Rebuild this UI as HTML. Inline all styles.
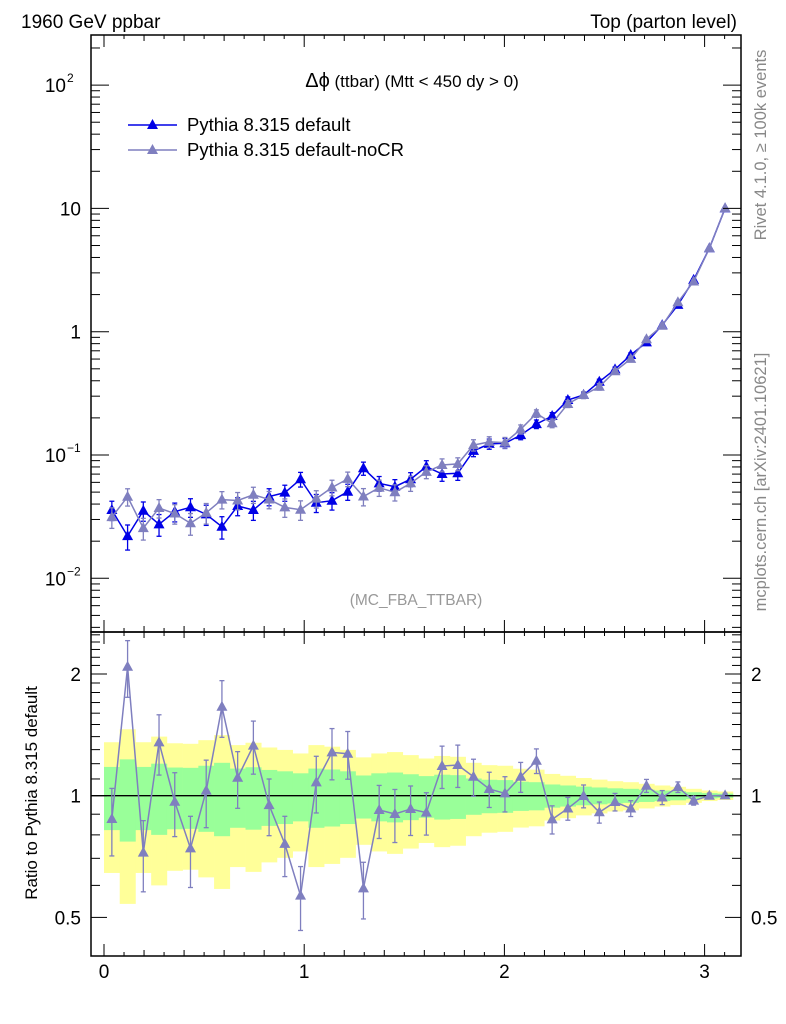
<!DOCTYPE html>
<html><head><meta charset="utf-8"><style>
html,body{margin:0;padding:0;background:#fff}
svg{display:block;font-family:"Liberation Sans",sans-serif}
</style></head><body>
<svg id="c" width="786" height="1024" viewBox="0 0 786 1024" xmlns="http://www.w3.org/2000/svg">
<rect x="0" y="0" width="786" height="1024" fill="#fff"/>
<g id="bands"></g>
<g id="marks"></g>
<g id="axes"></g>
<text x="21" y="28" font-size="19">1960 GeV ppbar</text>
<text x="737" y="28" font-size="19" text-anchor="end">Top (parton level)</text>
<text x="412" y="87" font-size="17" text-anchor="middle"><tspan font-size="20">Δϕ</tspan> (ttbar) (Mtt &lt; 450 dy &gt; 0)</text>
<g>
<g>
<line x1="128" y1="125" x2="177" y2="125" stroke="#0000e6" stroke-width="1.5"/>
<polygon points="152.5,119 147,129 158,129" fill="#0000e6"/>
<text x="187" y="131" font-size="18.5">Pythia 8.315 default</text></g>
<g>
<line x1="128" y1="150" x2="177" y2="150" stroke="#7f7fbf" stroke-width="1.5"/>
<polygon points="152.5,144 147,154 158,154" fill="#7f7fbf"/>
<text x="187" y="156" font-size="18.5">Pythia 8.315 default-noCR</text></g>
</g>
<text x="416" y="605" font-size="15.5" fill="#999" text-anchor="middle">(MC_FBA_TTBAR)</text>
<text transform="translate(766,145) rotate(-90)" font-size="16.5" fill="#888" text-anchor="middle">Rivet 4.1.0, ≥ 100k events</text>
<text transform="translate(766,482) rotate(-90)" font-size="16.5" fill="#888" text-anchor="middle">mcplots.cern.ch [arXiv:2401.10621]</text>
<text transform="translate(37,793) rotate(-90)" font-size="17" text-anchor="middle">Ratio to Pythia 8.315 default</text>
</svg>
<script>
const defaultValues=[0.0358,0.022,0.0353,0.0274,0.0347,0.0377,0.033,0.0262,0.0386,0.0358,0.046,0.0495,0.0636,0.041,0.0426,0.0504,0.078,0.0589,0.0553,0.0636,0.0804,0.0701,0.0711,0.108,0.123,0.1245,0.145,0.178,0.207,0.279,0.307,0.393,0.495,0.647,0.82,1.13,1.65,2.63,4.75,10.0];
const ratioValues=[0.876,2.085,0.723,1.355,0.966,0.741,1.029,1.66,1.108,1.33,0.948,0.76,0.566,1.079,1.28,1.27,0.59,0.922,0.901,0.927,0.908,1.184,1.191,1.114,1.039,1.013,1.114,1.22,0.874,0.93,0.998,0.91,0.965,0.93,1.058,0.99,1.05,0.972,1.0,1.002];
const defaultRelErr=[0.178,0.23,0.178,0.2,0.174,0.172,0.186,0.206,0.167,0.176,0.158,0.149,0.136,0.167,0.161,0.149,0.122,0.136,0.141,0.13,0.118,0.127,0.124,0.103,0.095,0.093,0.083,0.08,0.066,0.06,0.053,0.048,0.043,0.04,0.035,0.03,0.026,0.02,0.015,0.012];
const nocrRelErr=[0.19,0.16,0.2,0.17,0.18,0.2,0.19,0.16,0.16,0.15,0.16,0.17,0.18,0.16,0.145,0.135,0.16,0.15,0.15,0.14,0.12,0.12,0.12,0.105,0.1,0.1,0.085,0.07,0.08,0.065,0.065,0.06,0.05,0.045,0.037,0.04,0.03,0.025,0.015,0.012];
const xTickLabels=["0","1","2","3"];
const mainTickLabels=[[2,"10","2"],[1,"10",""],[0,"1",""],[-1,"10","−1"],[-2,"10","−2"]];
const ratioTickLabels=["2","1","0.5"];

const NS="http://www.w3.org/2000/svg";
const L=91,R=741,MT=35,MB=632,RB=956;
const nb=defaultValues.length, bw=Math.PI/nb;
const X=v=>104+200.2*v;
const Y=v=>331.7-123.3*Math.log10(v);
const RY=v=>795.7-121.7*Math.log2(v);
function el(p,t,a){const e=document.createElementNS(NS,t);for(const k in a)e.setAttribute(k,a[k]);p.appendChild(e);return e;}
const bands=document.getElementById('bands'),marks=document.getElementById('marks'),axes=document.getElementById('axes');

defaultRelErr.forEach((e,i)=>{
 const x0=X(i*bw),x1=X((i+1)*bw);
 const y=el(bands,'rect',{x:x0,y:RY(1+2*e),width:x1-x0+0.3,height:RY(1-2*e)-RY(1+2*e),fill:'#ffff99'});
 
 
});
defaultRelErr.forEach((e,i)=>{
 const x0=X(i*bw),x1=X((i+1)*bw);
 const g=el(bands,'rect',{x:x0,y:RY(1+e),width:x1-x0+0.3,height:RY(1-e)-RY(1+e),fill:'#99ff99'});
 
 
});
const one=el(bands,'line',{x1:L,x2:R,y1:RY(1),y2:RY(1),stroke:'#000','stroke-width':1.3});



function series(vals,errs,color,yf,name){
 const pts=vals.map((v,i)=>[X((i+0.5)*bw),yf(v)]);
 const pl=el(marks,'polyline',{points:pts.map(p=>p.join(',')).join(' '),fill:'none',stroke:color,'stroke-width':1.5});
 
 
 vals.forEach((v,i)=>{
  const x=pts[i][0],y=pts[i][1],yt=yf(v*(1+errs[i])),yb=yf(v*(1-errs[i]));
  const g=el(marks,'g',{});
  
  
  el(g,'line',{x1:x,x2:x,y1:yt,y2:yb,stroke:color,'stroke-width':1.3});
  el(g,'line',{x1:x-2.5,x2:x+2.5,y1:yt,y2:yt,stroke:color,'stroke-width':1.3});
  el(g,'line',{x1:x-2.5,x2:x+2.5,y1:yb,y2:yb,stroke:color,'stroke-width':1.3});
  el(g,'polygon',{points:`${x},${y-6} ${x-5.5},${y+4} ${x+5.5},${y+4}`,fill:color});
 });
}
const nocrValues=defaultValues.map((v,i)=>v*ratioValues[i]);
series(defaultValues,defaultRelErr,'#0000e6',Y,'default');
series(nocrValues,nocrRelErr,'#7f7fbf',Y,'nocr');
series(ratioValues,nocrRelErr,'#7f7fbf',RY,'ratio');

[[MT,MB],[MB,RB]].forEach(([t,b],k)=>{
 const r=el(axes,'rect',{x:L,y:t,width:R-L,height:b-t,fill:'none',stroke:'#000','stroke-width':1.5});
 
 
});
for(let i=0;i<=31;i++){
 const v=i/10,x=X(v),len=(i%10===0)?12:(i%2===0?6:4);
 if(x>R)break;
 el(axes,'line',{x1:x,x2:x,y1:RB,y2:RB-len,stroke:'#000','stroke-width':1});
 el(axes,'line',{x1:x,x2:x,y1:MT,y2:MT+len,stroke:'#000','stroke-width':1});
 el(axes,'line',{x1:x,x2:x,y1:MB,y2:MB-len,stroke:'#000','stroke-width':1});
 el(axes,'line',{x1:x,x2:x,y1:MB,y2:MB+len,stroke:'#000','stroke-width':1});
}
xTickLabels.forEach((t,i)=>{
 const e=el(axes,'text',{x:X(i),y:978,'font-size':19,'text-anchor':'middle'});
 e.textContent=t;
 
 
});
for(let d=-3;d<=2;d++){
 for(let m=1;m<10;m++){
  const y=Y(m*Math.pow(10,d));
  if(y<MT||y>MB)continue;
  const len=m===1?18:9;
  el(axes,'line',{x1:L,x2:L+len,y1:y,y2:y,stroke:'#000','stroke-width':1});
  el(axes,'line',{x1:R,x2:R-len,y1:y,y2:y,stroke:'#000','stroke-width':1});
 }
}
mainTickLabels.forEach(([p,b,s])=>{
 const y=Y(Math.pow(10,p));
 const e=el(axes,'text',{x:s?66:81,y:y+7,'font-size':19,'text-anchor':'end'});
 e.textContent=b;
 
 
 if(s){const q=el(axes,'text',{x:67,y:y-3,'font-size':12});q.textContent=s;}
});
[0.4,0.5,0.6,0.7,0.8,0.9,1,1.1,1.2,1.3,1.4,1.5,1.6,1.7,1.8,1.9,2,2.1,2.2,2.3,2.4,2.5].forEach(v=>{
 const y=RY(v); if(y<MB||y>RB)return;
 const len=(v===0.5||v===1||v===2)?16:9;
 el(axes,'line',{x1:L,x2:L+len,y1:y,y2:y,stroke:'#000','stroke-width':1});
 el(axes,'line',{x1:R,x2:R-len,y1:y,y2:y,stroke:'#000','stroke-width':1});
});
[2,1,0.5].forEach((v,i)=>{
 const a=el(axes,'text',{x:81,y:RY(v)+7,'font-size':19,'text-anchor':'end'});
 a.textContent=ratioTickLabels[i];
 
 
 const b=el(axes,'text',{x:751,y:RY(v)+7,'font-size':19});
 b.textContent=ratioTickLabels[i];
 
 
});
</script>
</body></html>
